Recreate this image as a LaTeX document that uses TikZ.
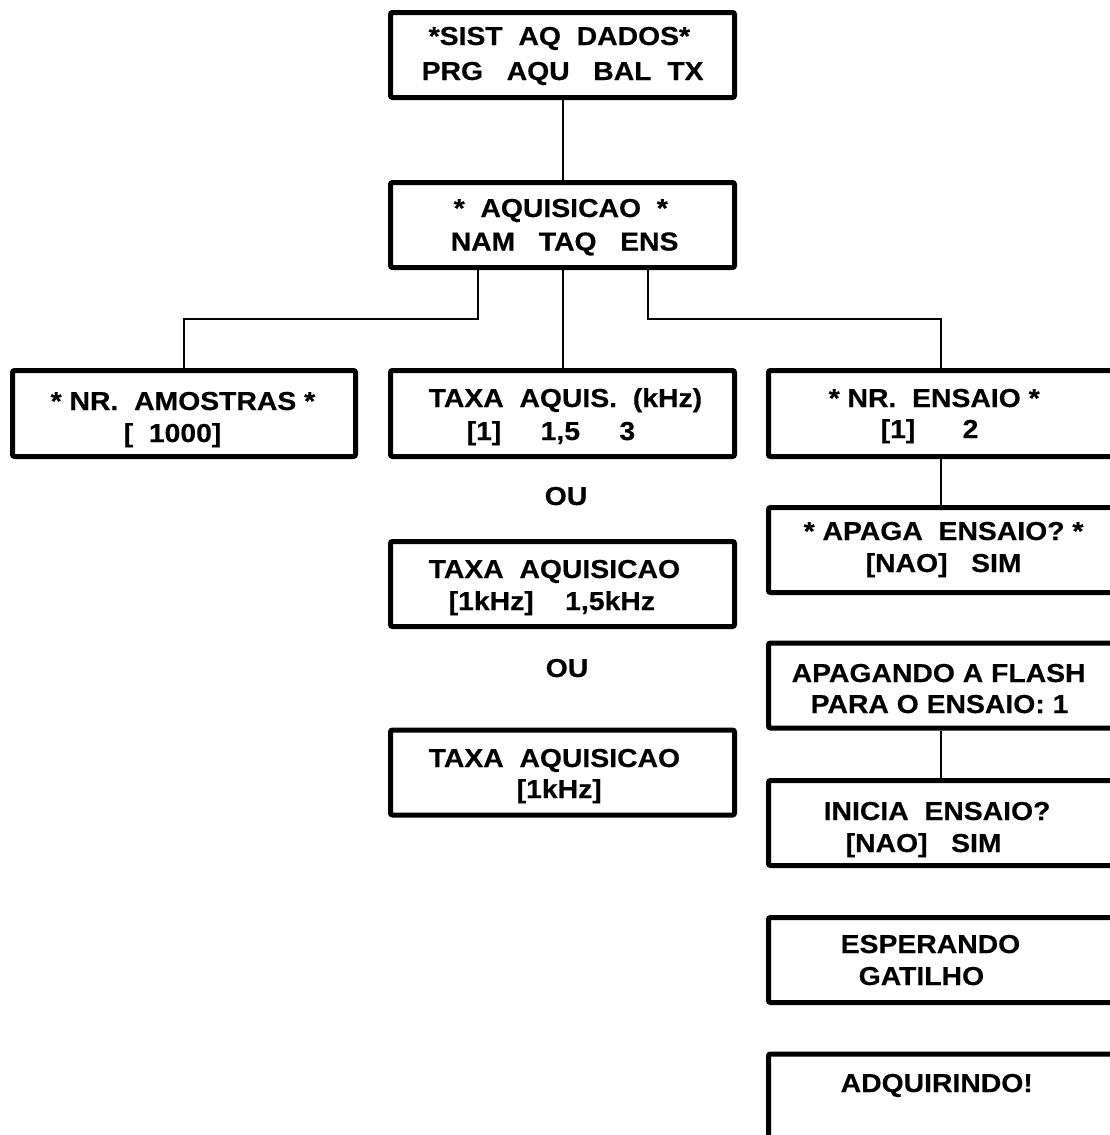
\documentclass[tikz,border=0pt]{standalone}
\usepackage{fontspec}
\setmainfont{Liberation Sans}[FakeStretch=1.09, FakeBold=0.4]
\usetikzlibrary{calc}
\begin{document}
\begin{tikzpicture}[x=1pt,y=-1pt,
  lcd/.style={draw=black, line width=5pt, rounded corners=2pt, rectangle,
    inner sep=0pt, minimum height=85pt},
  colm/.style={lcd, minimum width=344pt},
  link/.style={draw=black, line width=2pt},
  txt/.style={anchor=base west, inner sep=0pt, font=\fontsize{26}{30}\selectfont\bfseries},
  ctxt/.style={anchor=base, inner sep=0pt, font=\fontsize{26}{30}\selectfont\bfseries}]
\useasboundingbox (0,0) rectangle (1110,1135);

% display screens
\node[colm] (top) at (562.5,55) {};
\node[colm] (aq) at (562.5,225) {};
\node[colm, minimum width=343pt, minimum height=86pt] (nam) at (184,413.5) {};
\node[colm, minimum height=86pt] (taq) at (562.5,413.5) {};
\node[colm, minimum height=86pt] (ens) at (940.5,413.5) {};
\node[colm] (apaga) at (940.5,550) {};
\node[colm] (taq2) at (562.5,584) {};
\node[colm] (taq3) at (562.5,772.5) {};
\node[colm] (flash) at (940.5,685.5) {};
\node[colm] (inicia) at (940.5,823) {};
\node[colm] (espera) at (940.5,960) {};
\node[colm] (adq) at (940.5,1096.5) {};

% menu connections
\draw[link] (top.south) -- (aq.north);
\draw[link] ([xshift=-85pt]aq.south) |- ([yshift=49pt]nam.north) -- (nam.north);
\draw[link] (aq.south) -- (taq.north);
\draw[link] ([xshift=85pt]aq.south) |- ([yshift=49pt]ens.north) -- (ens.north);
\draw[link] (ens.south) -- (apaga.north);
\draw[link] (flash.south) -- (inicia.north);

% screen texts
\node[txt] (top-a) at (428.5,45) {*SIST~~AQ~~DADOS*};
\node[txt] (top-b) at (421.5,80) {PRG~~~AQU~~~BAL~~TX};
\node[txt] (aq-a) at (453.5,217) {*~~AQUISICAO~~*};
\node[txt] (aq-b) at (450.5,250.5) {NAM~~~TAQ~~~ENS};
\node[txt] (nam-a) at (50.5,410) {*~NR.~~AMOSTRAS~*};
\node[txt] (nam-b) at (123.5,442) {[~~1000]};
\node[txt] (taq-a) at (428.5,407) {TAXA~~AQUIS.~~(kHz)};
\node[txt] (taq-b) at (466.5,440) {[1]~~~~~1,5~~~~~3};
\node[ctxt] (ou-a) at (566,505) {OU};
\node[txt] (taq2-a) at (428.5,578) {TAXA~~AQUISICAO};
\node[txt] (taq2-b) at (448.5,610) {[1kHz]~~~~1,5kHz};
\node[ctxt] (ou-b) at (567,677) {OU};
\node[txt] (taq3-a) at (428.5,767) {TAXA~~AQUISICAO};
\node[txt] (taq3-b) at (516.5,798) {[1kHz]};
\node[txt] (ens-a) at (828.5,407) {*~NR.~~ENSAIO~*};
\node[txt] (ens-b) at (880.5,438) {[1]~~~~~~2};
\node[txt] (apaga-a) at (803.5,540) {*~APAGA~~ENSAIO?~*};
\node[txt] (apaga-b) at (865.5,572) {[NAO]~~~SIM};
\node[txt] (flash-a) at (791.5,682) {APAGANDO~A~FLASH};
\node[txt] (flash-b) at (810.5,713) {PARA~O~ENSAIO:~1};
\node[txt] (inicia-a) at (823.5,820) {INICIA~~ENSAIO?};
\node[txt] (inicia-b) at (845.5,852) {[NAO]~~~SIM};
\node[txt] (espera-a) at (840.5,953) {ESPERANDO};
\node[txt] (espera-b) at (858.5,985) {GATILHO};
\node[txt] (adq-a) at (840.5,1092) {ADQUIRINDO!};
\end{tikzpicture}
\end{document}
